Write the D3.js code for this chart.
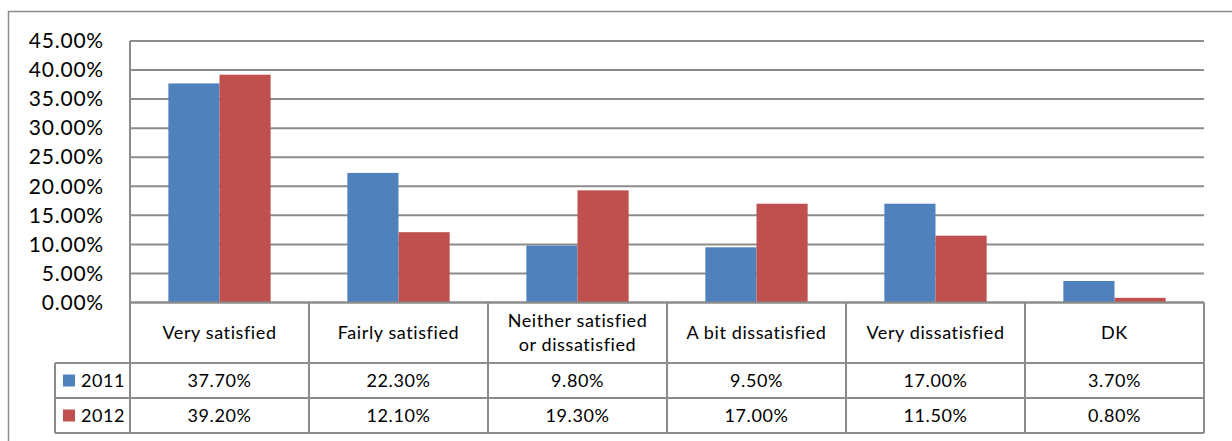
<!DOCTYPE html>
<html>
<head>
<meta charset="utf-8">
<script src="https://cdn.jsdelivr.net/npm/d3@7"></script>
<style>
  html, body { margin: 0; padding: 0; background: #fff; }
  svg { display: block; font-family: Lato, "Open Sans", sans-serif; }
</style>
</head>
<body>
<svg id="chart" width="1232" height="441"></svg>
<script>
// Satisfaction survey results, 2011 vs 2012
const categories = ["Very satisfied", "Fairly satisfied", "Neither satisfied\nor dissatisfied", "A bit dissatisfied", "Very dissatisfied", "DK"];
const seriesNames = ["2011", "2012"];
const values2011 = [37.7, 22.3, 9.8, 9.5, 17.0, 3.7];
const values2012 = [39.2, 12.1, 19.3, 17.0, 11.5, 0.8];
const yTicks = [0, 5, 10, 15, 20, 25, 30, 35, 40, 45];
const colors = ["#4F81BD", "#C0504D"];

const series = [values2011, values2012];
const svg = d3.select("#chart");

const plotLeft = 130, plotRight = 1204, plotTop = 41, plotBottom = 302.5;
const tableLegendLeft = 55;
const rowLabelBottom = 363, row1Bottom = 398, row2Bottom = 433;
const gridColor = "#8c8c8c";
const tableFont = 18, tableSpacing = 0.6;

// Outer chart border
svg.append("rect").attr("x", 8.5).attr("y", 11.5).attr("width", 1240).attr("height", 440)
  .attr("fill", "none").attr("stroke", gridColor).attr("stroke-width", 1.5);

const x = d3.scaleBand().domain(categories).range([plotLeft, plotRight]).paddingInner(0).paddingOuter(0);
const x1 = d3.scaleBand().domain(seriesNames).range([0, x.bandwidth()]).paddingInner(0).paddingOuter(0.75);
const y = d3.scaleLinear().domain([0, 45]).range([plotBottom, plotTop]);

// Horizontal gridlines
svg.append("g").selectAll("line").data(yTicks).join("line")
  .attr("x1", plotLeft).attr("x2", plotRight)
  .attr("y1", d => y(d)).attr("y2", d => y(d))
  .attr("stroke", gridColor).attr("stroke-width", 2);

// Y axis labels
const yAxis = d3.axisLeft(y).tickValues(yTicks).tickSize(0).tickPadding(0)
  .tickFormat(d => d.toFixed(2) + "%");
const yg = svg.append("g").attr("transform", `translate(${104},0)`).call(yAxis);
yg.select(".domain").remove();
yg.selectAll("text").attr("font-size", 21).attr("letter-spacing", 0.8)
  .attr("fill", "#000").attr("font-family", "Lato, sans-serif");

// Bars
const groups = svg.append("g").selectAll("g").data(categories).join("g")
  .attr("transform", d => `translate(${x(d)},0)`);
groups.selectAll("rect").data((d, i) => seriesNames.map((s, j) => ({ s, v: series[j][i], j })))
  .join("rect")
  .attr("x", d => x1(d.s))
  .attr("width", x1.bandwidth())
  .attr("y", d => y(d.v))
  .attr("height", d => y(0) - y(d.v))
  .attr("fill", d => colors[d.j]);

// Axis line at zero (drawn over bars)
svg.append("line").attr("x1", plotLeft).attr("x2", plotRight).attr("y1", y(0)).attr("y2", y(0))
  .attr("stroke", gridColor).attr("stroke-width", 2);

// Data table lines
const tbl = svg.append("g").attr("stroke", gridColor).attr("stroke-width", 2);
tbl.append("line").attr("x1", plotLeft).attr("x2", plotLeft).attr("y1", plotTop).attr("y2", row2Bottom);
tbl.append("line").attr("x1", plotRight).attr("x2", plotRight).attr("y1", plotBottom).attr("y2", row2Bottom);
tbl.append("line").attr("x1", tableLegendLeft).attr("x2", tableLegendLeft).attr("y1", rowLabelBottom).attr("y2", row2Bottom);
categories.slice(1).forEach(c => {
  tbl.append("line").attr("x1", x(c)).attr("x2", x(c)).attr("y1", plotBottom).attr("y2", row2Bottom);
});
[rowLabelBottom, row1Bottom, row2Bottom].forEach(yy => {
  tbl.append("line").attr("x1", tableLegendLeft).attr("x2", plotRight).attr("y1", yy).attr("y2", yy);
});

// Category labels
const catText = svg.append("g").selectAll("text").data(categories).join("text")
  .attr("text-anchor", "middle")
  .attr("font-size", tableFont)
  .attr("letter-spacing", tableSpacing)
  .attr("fill", "#000");
catText.each(function(d) {
  const lines = d.split("\n");
  const cx = x(d) + x.bandwidth() / 2;
  const cy = (plotBottom + rowLabelBottom) / 2;
  const lh = 24;
  lines.forEach((ln, k) => {
    d3.select(this).append("tspan")
      .attr("x", cx)
      .attr("y", cy + (k - (lines.length - 1) / 2) * lh)
      .attr("dy", "0.35em")
      .text(ln);
  });
});

// Table rows with legend keys
const rowTops = [rowLabelBottom, row1Bottom];
const rowBottoms = [row1Bottom, row2Bottom];
seriesNames.forEach((s, j) => {
  const cy = (rowTops[j] + rowBottoms[j]) / 2;
  svg.append("rect").attr("x", 63).attr("y", cy - 6).attr("width", 12).attr("height", 12).attr("fill", colors[j]);
  svg.append("text").attr("x", 81).attr("y", cy).attr("dy", "0.35em")
    .attr("font-size", tableFont).attr("letter-spacing", tableSpacing).attr("fill", "#000").text(s);
  svg.append("g").selectAll("text").data(categories).join("text")
    .attr("x", d => x(d) + x.bandwidth() / 2)
    .attr("y", cy).attr("dy", "0.35em")
    .attr("text-anchor", "middle")
    .attr("font-size", tableFont).attr("letter-spacing", tableSpacing).attr("fill", "#000")
    .text((d, i) => series[j][i].toFixed(2) + "%");
});
</script>
</body>
</html>
